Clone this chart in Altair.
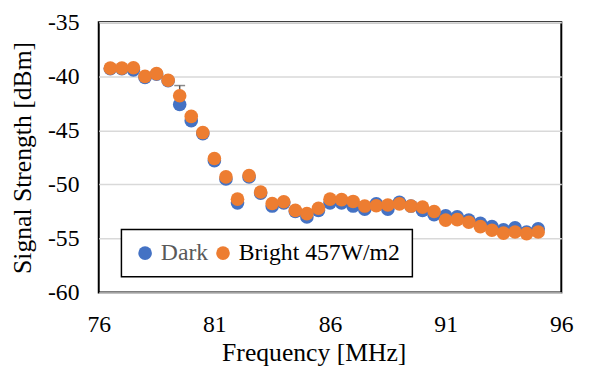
import altair as alt
import pandas as pd

freq = [76.5, 77.0, 77.5, 78.0, 78.5, 79.0, 79.5, 80.0, 80.5, 81.0,
        81.5, 82.0, 82.5, 83.0, 83.5, 84.0, 84.5, 85.0, 85.5, 86.0,
        86.5, 87.0, 87.5, 88.0, 88.5, 89.0, 89.5, 90.0, 90.5, 91.0,
        91.5, 92.0, 92.5, 93.0, 93.5, 94.0, 94.5, 95.0]
dark = [-39.3, -39.3, -39.4, -40.1, -39.8, -40.4, -42.6, -44.1, -45.3, -47.8,
        -49.5, -51.7, -49.3, -50.8, -52.0, -51.7, -52.5, -53.0, -52.4, -51.7,
        -51.7, -52.0, -52.3, -51.8, -52.3, -51.65, -52.0, -52.4, -52.8, -52.9,
        -53.0, -53.3, -53.6, -53.9, -54.2, -54.0, -54.4, -54.1]
bright = [-39.24, -39.24, -39.2, -40.0, -39.75, -40.36, -41.8, -43.7, -45.2, -47.6,
          -49.3, -51.36, -49.18, -50.7, -51.76, -51.6, -52.4, -52.7, -52.2, -51.36,
          -51.4, -51.57, -52.0, -51.97, -51.9, -51.8, -52.0, -52.1, -52.5, -53.3,
          -53.25, -53.5, -53.9, -54.24, -54.5, -54.4, -54.55, -54.4]
series = ["Dark", "Bright 457W/m2"]
colors = ["#4472C4", "#ED7D31"]

x_ticks = [76, 81, 86, 91, 96]
y_ticks = [-60, -55, -50, -45, -40, -35]

err_freq = [79.5]
err_low = [-41.8]
err_high = [-40.85]

rows = []
for i, f in enumerate(freq):
    rows.append({"freq": f, "value": dark[i], "series": series[0], "order": 0})
for i, f in enumerate(freq):
    rows.append({"freq": f, "value": bright[i], "series": series[1], "order": 1})
df = pd.DataFrame(rows)
err_df = pd.DataFrame({"freq": err_freq, "low": err_low, "high": err_high})

FONT = "Liberation Serif"

xscale = alt.Scale(domain=[76, 96], nice=False, zero=False)
yscale = alt.Scale(domain=[-60, -35], nice=False, zero=False)

xaxis = alt.Axis(values=x_ticks, grid=False, ticks=False, domain=False,
                 labelPadding=20, labelFlush=False, labelExpr="'' + datum.value",
                 title="Frequency [MHz]", titleBaseline="alphabetic",
                 titleX=218, titleY=69, titleAlign="center")
yaxis = alt.Axis(values=y_ticks, grid=True, ticks=False, domain=False,
                 labelPadding=20, labelFlush=False, labelExpr="'' + datum.value",
                 gridColor="#d9d9d9", gridWidth=1.5,
                 title="Signal Strength [dBm]", titleBaseline="alphabetic",
                 titleX=-69, titleY=137, titleAlign="center")

err_rule = alt.Chart(err_df).mark_rule(color="#595959", strokeWidth=1.5).encode(
    x=alt.X("freq:Q", scale=xscale, axis=xaxis),
    y=alt.Y("low:Q", scale=yscale, axis=yaxis),
    y2="high:Q",
)
err_cap = alt.Chart(err_df).mark_tick(color="#595959", thickness=1.5, size=11,
                                      orient="horizontal").encode(
    x=alt.X("freq:Q", scale=xscale),
    y=alt.Y("high:Q", scale=yscale),
)

points = alt.Chart(df).mark_circle(size=190, opacity=1).encode(
    x=alt.X("freq:Q", scale=xscale, axis=xaxis),
    y=alt.Y("value:Q", scale=yscale, axis=yaxis),
    color=alt.Color("series:N", scale=alt.Scale(domain=series, range=colors),
                    legend=alt.Legend(
                        title=None, orient="none", legendX=23, legendY=210,
                        direction="horizontal", symbolType="circle", symbolSize=190,
                        labelFontSize=24, labelFont=FONT, labelOffset=4, labelLimit=400,
                        columnPadding=3, padding=12,
                        strokeColor="black", fillColor="white",
                        labelColor={"expr": "datum.label == 'Dark' ? '#595959' : '#000000'"},
                    )),
    order=alt.Order("order:Q"),
)

chart = alt.layer(err_rule, err_cap, points).properties(
    width=469, height=274,
    background="white",
    autosize=alt.AutoSizeParams(type="none"),
    padding={"left": 92, "top": 12, "right": 22, "bottom": 75},
).configure_view(
    stroke="black", strokeWidth=2
).configure_axis(
    labelFont=FONT, titleFont=FONT, labelFontSize=24, titleFontSize=26,
    labelColor="black", titleColor="black", titleFontWeight="normal",
).configure_legend(
    strokeWidth=1.5
)

chart.save("out.html", embed_options={"renderer": "svg", "actions": False})
